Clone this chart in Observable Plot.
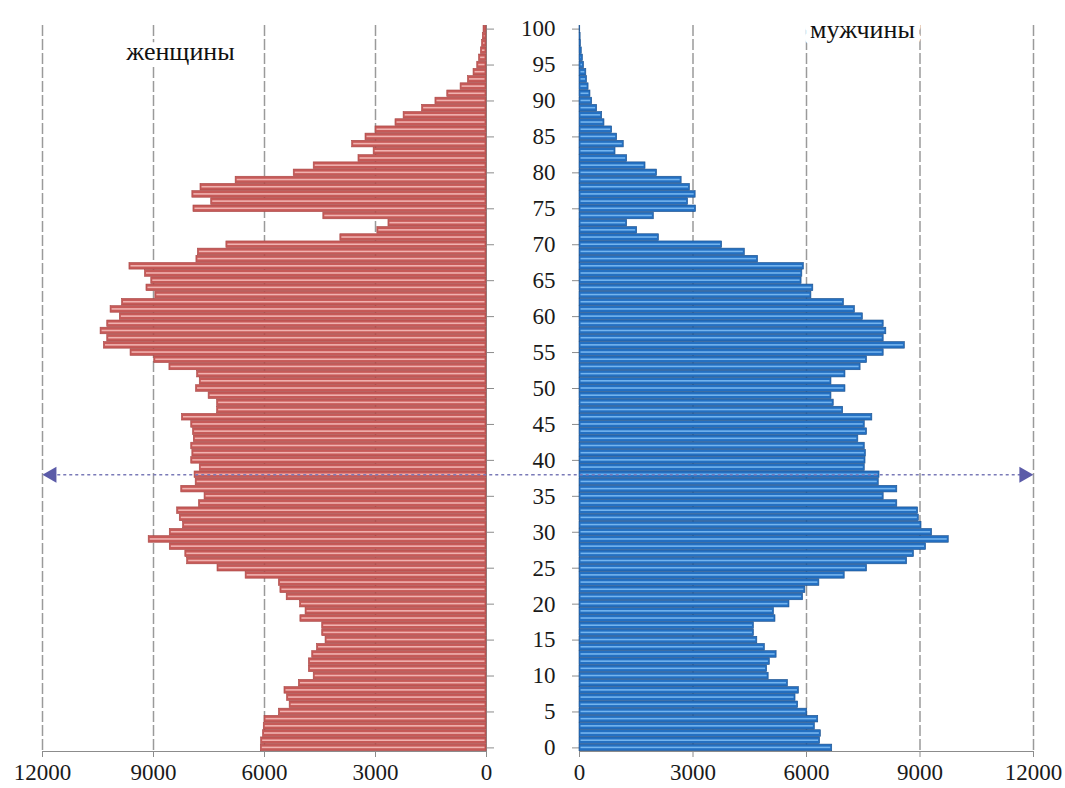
<!DOCTYPE html>
<html><head><meta charset="utf-8">
<script src="https://cdn.jsdelivr.net/npm/d3@7"></script>
<script src="https://cdn.jsdelivr.net/npm/@observablehq/plot@0.6"></script>
<style>
body{margin:0;background:#fff;}
#chart{position:relative;width:1065px;height:788px;display:flex;}
#chart svg{display:block;}
#chart svg text{font-family:'Liberation Serif','Times New Roman',serif !important;}
#chart svg [aria-label$="tick label"]{font-size:23px !important;fill:#1a1a1a;}
svg [aria-label$="axis tick"]{color:#8c8c8c;stroke:#8c8c8c;}
svg [aria-label="frame"]{color:#8c8c8c;stroke:#8c8c8c;}
</style></head><body><div id="chart"></div>
<script>
// ages 0..100
const ages = d3.range(0, 101);
// women (left), by age 0..100
const women = [6100,6090,6040,6020,6000,5610,5320,5390,5460,5070,
  4670,4800,4800,4710,4580,4350,4440,4440,5030,4890,
  5040,5400,5570,5610,6510,7270,8090,8140,8560,9130,
  8560,8200,8290,8360,7770,7620,8250,7860,7890,7750,
  7980,7950,7980,7910,7930,7980,8230,7280,7280,7510,
  7850,7750,7820,8570,8980,9620,10340,10250,10430,10250,
  9910,10160,9850,8950,9190,9060,9230,9650,7840,7800,
  7030,3950,2950,2650,4410,7920,7440,7950,7730,6780,
  5210,4670,3460,3050,3630,3270,3000,2460,2240,1740,
  1380,1060,700,500,350,250,200,150,120,100,80];
// men (right), by age 0..100
const men = [6680,6360,6380,6220,6310,6020,5780,5710,5800,5510,
  5000,4960,5030,5210,4900,4700,4610,4610,5180,5140,
  5550,5910,5970,6340,7010,7600,8660,8840,9160,9760,
  9320,9040,8970,8950,8400,8040,8400,7910,7930,7540,
  7560,7570,7540,7370,7600,7540,7740,6970,6720,6660,
  7030,6660,7030,7430,7600,8040,8600,8040,8110,8040,
  7490,7280,6990,6130,6180,5870,5890,5930,4720,4370,
  3770,2100,1525,1260,1965,3080,2870,3070,2920,2700,
  2050,1745,1260,952,1170,996,864,660,600,467,
  335,290,240,200,180,120,90,60,40,30,20];
const xTicks = [0, 3000, 6000, 9000, 12000];
const ageTicks = d3.range(0, 101, 5);
const markerAge = 38;
const arrowEnd = 11750;
const arrowOver = -1250;
const titles = ["женщины", "мужчины"];

const W = ages.map((a, i) => ({age: a, value: women[i]}));
const M = ages.map((a, i) => ({age: a, value: men[i]}));
const font = "'Liberation Serif', 'Times New Roman', serif";
const H = 788, MT = 25, MB = 37;

const left = Plot.plot({
  width: 532, height: H, marginLeft: 42, marginRight: 46, marginTop: MT, marginBottom: MB,
  style: {fontFamily: font, fontSize: "23px", color: "#1a1a1a", background: "white", overflow: "visible"},
  x: {domain: [0, 12000], reverse: true, ticks: xTicks, tickSize: 6, tickPadding: 6, tickFormat: d => String(d), line: true, label: null},
  y: {domain: ages.slice().reverse(), padding: 0, round: false, axis: "right", ticks: ageTicks, tickSize: 7, tickFormat: () => "", line: true, label: null},
  marks: [
    Plot.gridX(xTicks.filter(d => d > 0), {stroke: "#9a9a9a", strokeOpacity: 1, strokeWidth: 1.5, strokeDasharray: "11,3"}),
    Plot.barX(W, {y: "age", x: "value", fill: "#c65a58", stroke: "#a84543", strokeWidth: 0.6, insetTop: 0.3, insetBottom: 0.3}),
    Plot.barX(W, {y: "age", x: "value", fill: "#f0b2b0", insetTop: 2.8, insetBottom: 2.8, insetLeft: 1.5, insetRight: 1.5}),
    Plot.ruleY([markerAge], {y: d => d, x1: arrowEnd, x2: arrowOver, stroke: "#7a7ab8", strokeWidth: 1.5, strokeDasharray: "3,3"}),
    Plot.dot([markerAge], {y: d => d, x: () => arrowEnd, symbol: "triangle", rotate: -90, r: 6, fill: "#5b5ba8", stroke: "none"}),
    Plot.text([titles[0]], {frameAnchor: "top-left", lineAnchor: "middle", dx: 138, dy: 26, text: d => d, fontSize: 26, textAnchor: "middle", fill: "#111", stroke: "white", strokeWidth: 12, paintOrder: "stroke"})
  ]
});

const right = Plot.plot({
  width: 533, height: H, marginLeft: 47, marginRight: 32, marginTop: MT, marginBottom: MB,
  style: {fontFamily: font, fontSize: "23px", color: "#1a1a1a", background: "white", overflow: "visible"},
  x: {domain: [0, 12000], ticks: xTicks, tickSize: 6, tickPadding: 6, tickFormat: d => String(d), line: true, label: null},
  y: {domain: ages.slice().reverse(), padding: 0, round: false, axis: "left", ticks: ageTicks, tickSize: 7, tickPadding: 17, line: true, label: null},
  marks: [
    Plot.gridX(xTicks.filter(d => d > 0), {stroke: "#9a9a9a", strokeOpacity: 1, strokeWidth: 1.5, strokeDasharray: "11,3"}),
    Plot.barX(M, {y: "age", x: "value", fill: "#2470c2", stroke: "#1b4f8a", strokeWidth: 0.6, insetTop: 0.3, insetBottom: 0.3}),
    Plot.barX(M, {y: "age", x: "value", fill: "#74b4ee", insetTop: 2.8, insetBottom: 2.8, insetLeft: 1.5, insetRight: 1.5}),
    Plot.ruleY([markerAge], {y: d => d, x1: arrowOver, x2: arrowEnd, stroke: "#7a7ab8", strokeWidth: 1.5, strokeDasharray: "3,3"}),
    Plot.dot([markerAge], {y: d => d, x: () => arrowEnd, symbol: "triangle", rotate: 90, r: 6, fill: "#5b5ba8", stroke: "none"}),
    Plot.text([titles[1]], {frameAnchor: "top-left", lineAnchor: "middle", dx: 283, dy: 4, text: d => d, fontSize: 26, textAnchor: "middle", fill: "#111", stroke: "white", strokeWidth: 12, paintOrder: "stroke"})
  ]
});

const chart = document.getElementById("chart");
chart.append(left, right);
</script>
</body></html>
